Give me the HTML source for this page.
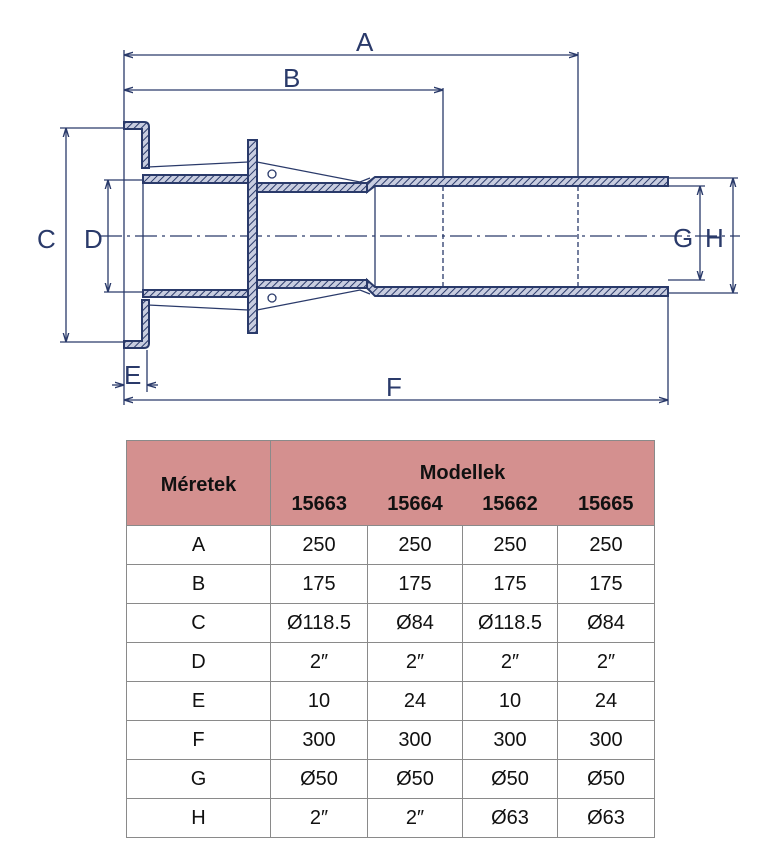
<!DOCTYPE html>
<html><head><meta charset="utf-8"><style>
body{margin:0;background:#fff;width:763px;height:860px;position:relative;overflow:hidden;font-family:"Liberation Sans",sans-serif}
svg{position:absolute;left:0;top:0}
table{position:absolute;left:126px;top:440px;border-collapse:collapse;width:528px;table-layout:fixed;font-size:20px;color:#111}
td{border:1px solid #8a8a8a;text-align:center;height:38px;padding:0;line-height:20px}
.h{background:#d4908f}
</style></head><body>
<svg width="763" height="430" viewBox="0 0 763 430">
<defs>
<pattern id="ht" width="5" height="5" patternUnits="userSpaceOnUse" patternTransform="rotate(45)">
<rect width="5" height="5" fill="#c8cde0"/><line x1="0" y1="0" x2="0" y2="5" stroke="#2a3a6a" stroke-width="2"/></pattern>
<marker id="ar" viewBox="0 0 10 10" refX="10" refY="5" markerWidth="7" markerHeight="7" orient="auto-start-reverse"><path d="M0,2 L10,5 L0,8" fill="none" stroke="#2a3a6a" stroke-width="1.5"/></marker>
</defs>
<g stroke="#2a3a6a" fill="none" stroke-width="1.3">
<line x1="100" y1="236" x2="740" y2="236" stroke-dasharray="22,5,3,5"/>
<line x1="124" y1="50" x2="124" y2="405"/>
<line x1="443" y1="88" x2="443" y2="185"/>
<line x1="578" y1="52" x2="578" y2="180"/>
<line x1="668" y1="296" x2="668" y2="405"/>
<line x1="60" y1="128" x2="124" y2="128"/><line x1="60" y1="342" x2="124" y2="342"/>
<line x1="104" y1="180" x2="145" y2="180"/><line x1="104" y1="292" x2="145" y2="292"/>
<line x1="668" y1="178" x2="738" y2="178"/><line x1="668" y1="293" x2="738" y2="293"/>
<line x1="668" y1="186" x2="705" y2="186"/><line x1="668" y1="280" x2="705" y2="280"/>
<line x1="147" y1="350" x2="147" y2="392"/>
<line x1="124" y1="55" x2="578" y2="55" marker-start="url(#ar)" marker-end="url(#ar)"/>
<line x1="124" y1="90" x2="443" y2="90" marker-start="url(#ar)" marker-end="url(#ar)"/>
<line x1="124" y1="400" x2="668" y2="400" marker-start="url(#ar)" marker-end="url(#ar)"/>
<line x1="66" y1="128" x2="66" y2="342" marker-start="url(#ar)" marker-end="url(#ar)"/>
<line x1="108" y1="180" x2="108" y2="292" marker-start="url(#ar)" marker-end="url(#ar)"/>
<line x1="700" y1="186" x2="700" y2="280" marker-start="url(#ar)" marker-end="url(#ar)"/>
<line x1="733" y1="178" x2="733" y2="293" marker-start="url(#ar)" marker-end="url(#ar)"/>
<line x1="112" y1="385" x2="124" y2="385" marker-end="url(#ar)"/><line x1="158" y1="385" x2="147" y2="385" marker-end="url(#ar)"/>
<polyline points="148,167 248,162 257,162 360,182 370,178"/>
<polyline points="148,305 248,310 257,310 360,290 370,294"/>
<line x1="143" y1="183" x2="143" y2="290"/>
<line x1="250" y1="192" x2="250" y2="280"/>
<line x1="375" y1="186" x2="375" y2="287"/>
<line x1="443" y1="186" x2="443" y2="287" stroke-dasharray="5,3"/>
<line x1="578" y1="186" x2="578" y2="287" stroke-dasharray="5,3"/>
<circle cx="272" cy="174" r="4"/><circle cx="272" cy="298" r="4"/>
</g>
<g stroke="#2a3a6a" stroke-width="2" fill="url(#ht)">
<path d="M124,122 H144 Q149,122 149,127 V168 H142 V129 H124 Z"/>
<path d="M124,348 H144 Q149,348 149,343 V300 H142 V341 H124 Z"/>
<rect x="143" y="175" width="107" height="8"/>
<rect x="143" y="290" width="107" height="7"/>
<rect x="248" y="140" width="9" height="193"/>
<rect x="257" y="183" width="110" height="9"/>
<rect x="257" y="280" width="110" height="8"/>
<path d="M367,183 L375,177 H668 V186 H375 L367,192 Z"/>
<path d="M367,288 L375,296 H668 V287 H375 L367,280 Z"/>
</g>
<g fill="#2a3a6a" font-family="Liberation Sans,sans-serif" font-size="26">
<text x="356" y="51">A</text><text x="283" y="87">B</text>
<text x="37" y="248">C</text><text x="84" y="248">D</text>
<text x="673" y="247">G</text><text x="705" y="247">H</text>
<text x="124" y="384">E</text><text x="386" y="396">F</text>
</g>
</svg>
<table>
<colgroup><col style="width:144px"><col style="width:97px"><col style="width:95px"><col style="width:95px"><col style="width:97px"></colgroup>
<tr><td class="h" rowspan="2" style="font-weight:bold;padding-top:4px">Méretek</td><td class="h" colspan="4" style="height:42px;font-weight:bold;vertical-align:bottom;border-bottom:none">Modellek</td></tr>
<tr><td class="h" style="height:42px;font-weight:bold;border-top:none;border-right:none">15663</td><td class="h" style="font-weight:bold;border-left:none;border-right:none;border-top:none">15664</td><td class="h" style="font-weight:bold;border-left:none;border-right:none;border-top:none">15662</td><td class="h" style="font-weight:bold;border-top:none;border-left:none">15665</td></tr>
<tr><td>A</td><td>250</td><td>250</td><td>250</td><td>250</td></tr>
<tr><td>B</td><td>175</td><td>175</td><td>175</td><td>175</td></tr>
<tr><td>C</td><td>Ø118.5</td><td>Ø84</td><td>Ø118.5</td><td>Ø84</td></tr>
<tr><td>D</td><td>2″</td><td>2″</td><td>2″</td><td>2″</td></tr>
<tr><td>E</td><td>10</td><td>24</td><td>10</td><td>24</td></tr>
<tr><td>F</td><td>300</td><td>300</td><td>300</td><td>300</td></tr>
<tr><td>G</td><td>Ø50</td><td>Ø50</td><td>Ø50</td><td>Ø50</td></tr>
<tr><td>H</td><td>2″</td><td>2″</td><td>Ø63</td><td>Ø63</td></tr>
</table>
</body></html>
